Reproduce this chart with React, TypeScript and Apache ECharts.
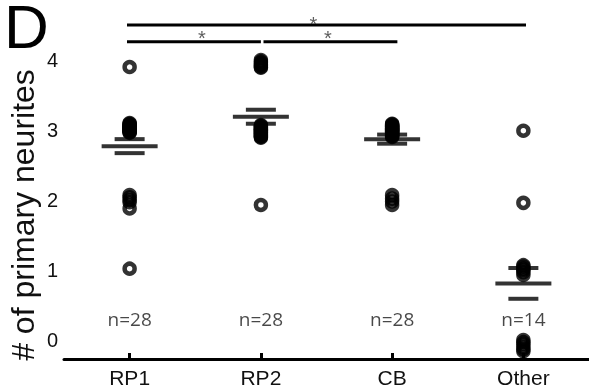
import React, { useEffect, useRef } from "react";
import * as echarts from "echarts";

// Groups along the x axis and their sample sizes
const categories = ["RP1", "RP2", "CB", "Other"];
const nLabels = ["n=28", "n=28", "n=28", "n=14"];

// Individual cells: number of primary neurites (small vertical jitter as plotted)
const rp1Values = [
  3.9, 3.1, 3.09, 3.08, 3.07, 3.06, 3.05, 3.05, 3.04, 3.03, 3.03, 3.02, 3.02, 3.01,
  3.01, 3.0, 3.0, 2.99, 2.99, 2.98, 2.97, 2.96, 2.07, 2.04, 2.0, 1.97, 1.88, 1.02,
];
const rp2Values = [
  4.0, 3.98, 3.96, 3.94, 3.92, 3.9, 3.89, 3.07, 3.06, 3.05, 3.04, 3.03, 3.02, 3.01,
  3.0, 3.0, 2.99, 2.98, 2.97, 2.96, 2.95, 2.94, 2.93, 2.92, 2.91, 2.9, 2.89, 1.93,
];
const cbValues = [
  3.09, 3.08, 3.07, 3.06, 3.05, 3.05, 3.04, 3.03, 3.02, 3.02, 3.01, 3.0, 3.0, 2.99,
  2.98, 2.98, 2.97, 2.96, 2.95, 2.94, 2.93, 2.92, 2.91, 2.9, 2.07, 2.02, 1.98, 1.93,
];
const otherValues = [2.99, 1.96, 1.07, 1.05, 1.02, 1.0, 0.97, 0.93, 0.0, -0.03, -0.06, -0.1, -0.13, -0.16];

// Group mean and standard error
const means = [2.77, 3.19, 2.87, 0.81];
const sems = [0.1, 0.1, 0.065, 0.22];

// Significance brackets (x in category-index units)
const bracketStarts = [-0.02, -0.02, 1.02];
const bracketEnds = [3.02, 1.0, 2.04];
const bracketLevels = [4.5, 4.26, 4.26];
const starX = [1.4, 0.55, 1.51];
const starLevels = [4.52, 4.31, 4.31];

const nLabelLevel = 0.3;

const FONT = "'Liberation Sans', Arial, sans-serif";

export default function App() {
  const ref = useRef<HTMLDivElement>(null);

  useEffect(() => {
    if (!ref.current) return;
    const chart = echarts.init(ref.current, null, { renderer: "svg" });

    const groups = [rp1Values, rp2Values, cbValues, otherValues];
    const pointData: [number, number][] = [];
    groups.forEach((vals, i) => vals.forEach((v) => pointData.push([i, v])));

    const series: any[] = [
      {
        type: "scatter",
        data: pointData,
        symbol: "circle",
        symbolSize: 10,
        itemStyle: { color: "transparent", borderColor: "#000", borderWidth: 4.5 },
        z: 2,
      },
      {
        type: "scatter",
        data: means.map((m, i) => [i, m]),
        symbol: "rect",
        symbolSize: [56, 4],
        itemStyle: { color: "#000" },
        z: 3,
      },
      {
        type: "scatter",
        data: [
          ...means.map((m, i) => [i, m + sems[i]]),
          ...means.map((m, i) => [i, m - sems[i]]),
        ],
        symbol: "rect",
        symbolSize: [30, 4],
        itemStyle: { color: "#000" },
        z: 3,
      },
      {
        type: "scatter",
        data: nLabels.map((t, i) => ({ value: [i, nLabelLevel], name: t })),
        symbolSize: 0,
        label: {
          show: true,
          position: "inside",
          formatter: (p: any) => p.name,
          fontFamily: "'Open Sans', 'Noto Sans', sans-serif",
          fontSize: 19,
          color: "#1a1a1a",
        },
        z: 4,
      },
      ...bracketStarts.map((s, i) => ({
        type: "line",
        xAxisIndex: 1,
        data: [
          [s, bracketLevels[i]],
          [bracketEnds[i], bracketLevels[i]],
        ],
        symbol: "none",
        lineStyle: { color: "#000", width: 3 },
        z: 4,
      })),
      {
        type: "scatter",
        xAxisIndex: 1,
        data: starX.map((x, i) => [x, starLevels[i]]),
        symbolSize: 0,
        label: {
          show: true,
          position: "inside",
          formatter: "*",
          fontFamily: FONT,
          fontSize: 20,
          color: "#333",
        },
        z: 4,
      },
    ];

    chart.setOption({
      animation: false,
      grid: { left: 64, right: 0, top: 18, bottom: 32 },
      xAxis: [
        {
          type: "category",
          data: categories,
          boundaryGap: true,
          axisLine: { onZero: false, lineStyle: { color: "#000", width: 3 } },
          axisTick: {
            show: true,
            inside: true,
            length: 6,
            alignWithLabel: true,
            lineStyle: { color: "#000", width: 3 },
          },
          axisLabel: { fontFamily: FONT, fontSize: 21, color: "#111", margin: 8 },
          splitLine: { show: false },
        },
        {
          type: "value",
          min: -0.5,
          max: 3.5,
          show: false,
          position: "top",
        },
      ],
      yAxis: {
        type: "value",
        min: -0.27,
        max: 4.6,
        splitNumber: 5,
        axisLine: { show: false },
        axisTick: { show: false },
        splitLine: { show: false },
        axisLabel: {
          fontFamily: FONT,
          fontSize: 20,
          color: "#111",
          margin: 6,
          formatter: (v: number) =>
            Math.abs(v - Math.round(v)) < 1e-6 && v >= 0 && v <= 4 ? String(Math.round(v)) : "",
        },
      },
      graphic: [
        {
          type: "text",
          x: 4,
          y: 26,
          style: {
            text: "D",
            fontFamily: FONT,
            fontSize: 62,
            lineHeight: 50,
            fill: "#000",
            textVerticalAlign: "middle",
          },
        },
        {
          type: "text",
          x: 23,
          y: 215,
          rotation: Math.PI / 2,
          style: {
            text: "# of primary neurites",
            fontFamily: FONT,
            fontSize: 32,
            fill: "#111",
            textAlign: "center",
            textVerticalAlign: "middle",
          },
        },
      ],
      series,
    });

    return () => chart.dispose();
  }, []);

  return (
    <div
      ref={ref}
      style={{ position: "fixed", left: 0, top: 0, width: 589, height: 391 }}
    />
  );
}
